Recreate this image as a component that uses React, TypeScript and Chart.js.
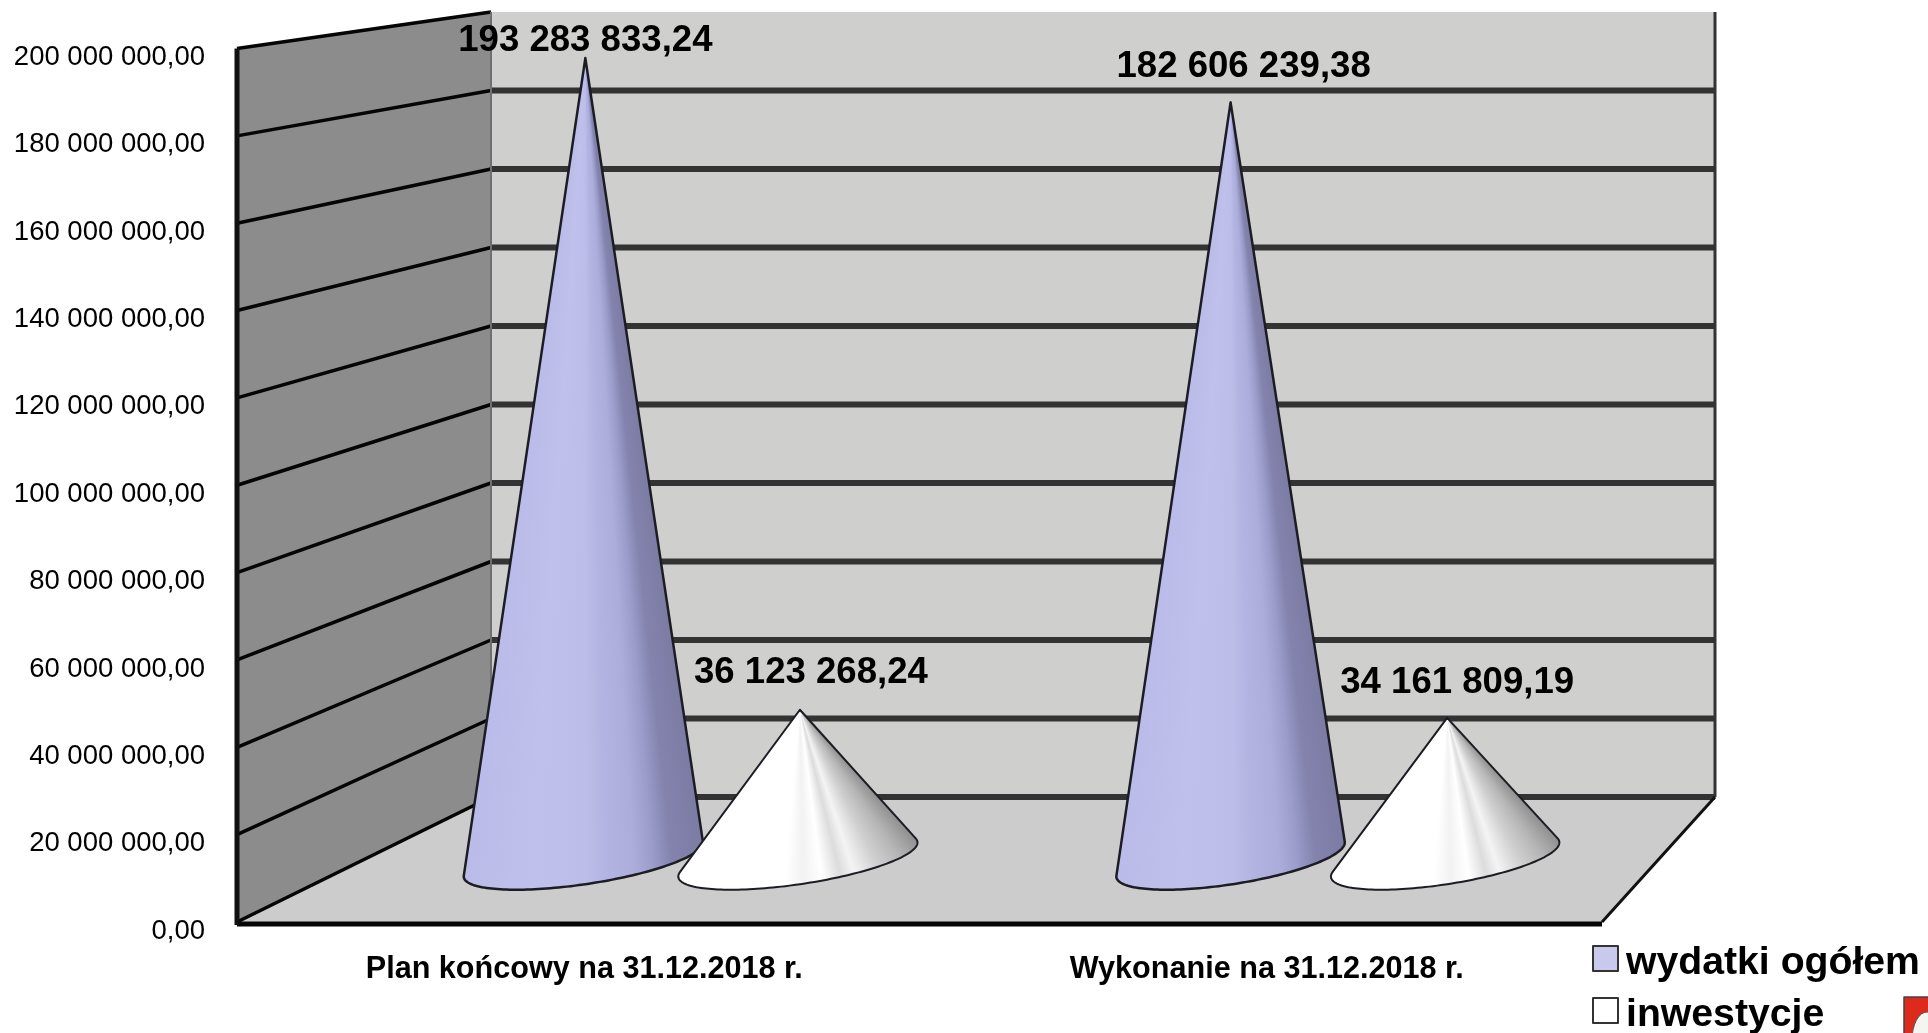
import React, { useEffect, useRef } from "react";
import { Chart, registerables } from "chart.js";

Chart.register(...registerables);

const categories = ["Plan końcowy na 31.12.2018 r.", "Wykonanie na 31.12.2018 r."];
const seriesNames = ["wydatki ogółem", "inwestycje"];
const wydatkiOgolem = [193283833.24, 182606239.38];
const inwestycje = [36123268.24, 34161809.19];

const WIDTH = 1928;
const HEIGHT = 1033;
const FONT = '"Liberation Sans", Arial, sans-serif';

// Oblique projection of the plot box: the scale's chart area is the front plane.
const BACK = { left: 491, right: 1715, top: 12, bottom: 797 };
const CONE_DEPTH = 0.5;
const CONE_SHIFT = 4;
const coneWidthByCategory = [1, 0.955];

const blueStops: [number, string][] = [
  [0, "#7b7ba3"], [0.14, "#8383ae"], [0.22, "#9c9ccb"], [0.3, "#adaddc"], [0.42, "#b4b4e2"],
  [0.5, "#bdbde9"], [0.72, "#c0c0ec"], [1, "#bbbbe9"],
];
const whiteStops: [number, string][] = [
  [0, "#8f8f8f"], [0.1, "#b5b5b5"], [0.2, "#d0d0d0"], [0.3, "#f4f4f4"], [0.36, "#dcdcdc"],
  [0.44, "#ffffff"], [0.52, "#f2f2f2"], [0.6, "#ffffff"], [1, "#ffffff"],
];
const labelNudges = [
  [[0, -17], [11, -35]],
  [[11, -37], [10, -35]],
];

function money(v: number): string {
  const [whole, frac] = v.toFixed(2).split(".");
  return whole.replace(/\B(?=(\d{3})+(?!\d))/g, " ") + "," + frac;
}

function makeProjector(chart: any) {
  const a = chart.chartArea;
  return (xF: number, yF: number, t: number) => {
    const l = a.left + (BACK.left - a.left) * t;
    const r = a.right + (BACK.right - a.right) * t;
    const b = a.bottom + (BACK.bottom - a.bottom) * t;
    const hRatio = (BACK.bottom - BACK.top) / (a.bottom - a.top);
    return {
      x: l + ((xF - a.left) / (a.right - a.left)) * (r - l),
      y: b - (a.bottom - yF) * (1 + (hRatio - 1) * t),
    };
  };
}

function poly(ctx: CanvasRenderingContext2D, pts: { x: number; y: number }[], fill: string) {
  ctx.beginPath();
  pts.forEach((p, i) => (i ? ctx.lineTo(p.x, p.y) : ctx.moveTo(p.x, p.y)));
  ctx.closePath();
  ctx.fillStyle = fill;
  ctx.fill();
}

function seg(ctx: CanvasRenderingContext2D, a: any, b: any, color: string, w: number) {
  ctx.beginPath();
  ctx.moveTo(a.x, a.y);
  ctx.lineTo(b.x, b.y);
  ctx.strokeStyle = color;
  ctx.lineWidth = w;
  ctx.stroke();
}

function drawCone(
  ctx: CanvasRenderingContext2D,
  apex: { x: number; y: number },
  base: { x: number; y: number },
  rx: number,
  stops: [number, string][],
  outline: number,
) {
  const ry = 25;
  const skew = -17;
  const n = 180;
  const pts: { x: number; y: number; a: number }[] = [];
  for (let i = 0; i < n; i++) {
    const th = (i / n) * Math.PI * 2;
    const x = base.x + rx * Math.cos(th);
    const y = base.y + ry * Math.sin(th) + skew * Math.cos(th);
    pts.push({ x, y, a: Math.atan2(y - apex.y, x - apex.x) });
  }
  let iR = 0;
  let iL = 0;
  pts.forEach((p, i) => {
    if (p.a < pts[iR].a) iR = i;
    if (p.a > pts[iL].a) iL = i;
  });
  const grad = (ctx as any).createConicGradient(pts[iR].a, apex.x, apex.y);
  const span = (pts[iL].a - pts[iR].a) / (Math.PI * 2);
  stops.forEach(([f, c]) => grad.addColorStop(f * span, c));
  grad.addColorStop(Math.min(1, span + 0.001), stops[stops.length - 1][1]);
  grad.addColorStop(1, stops[0][1]);

  ctx.beginPath();
  ctx.moveTo(apex.x, apex.y);
  ctx.lineTo(pts[iL].x, pts[iL].y);
  // lower rim, from the left tangent back round to the right tangent
  let i = iL;
  while (i !== iR) {
    i = (i - 1 + n) % n;
    ctx.lineTo(pts[i].x, pts[i].y);
  }
  ctx.closePath();
  ctx.fillStyle = grad;
  ctx.fill();
  ctx.strokeStyle = "#1c1c24";
  ctx.lineWidth = outline;
  ctx.lineJoin = "round";
  ctx.stroke();
}

const scenePlugin = {
  id: "scene3d",
  beforeDatasetsDraw(chart: any) {
    const { ctx, chartArea: a } = chart;
    const y = chart.scales.y;
    const P = makeProjector(chart);
    ctx.save();
    const fTop = { x: a.left, y: a.top };
    const fBot = { x: a.left, y: a.bottom };
    const bTop = P(a.left, a.top, 1);
    const bBot = P(a.left, a.bottom, 1);
    const fR = { x: a.right, y: a.bottom };
    const bR = P(a.right, a.bottom, 1);
    const bRT = P(a.right, a.top, 1);

    poly(ctx, [bTop, bRT, bR, bBot], "#cfcfcd");
    poly(ctx, [fBot, bBot, bR, fR], "#cccccc");
    poly(ctx, [fTop, bTop, bBot, fBot], "#8c8c8c");

    y.ticks.forEach((tk: any) => {
      const py = y.getPixelForValue(tk.value);
      const f = P(a.left, py, 0);
      const b = P(a.left, py, 1);
      const r = P(a.right, py, 1);
      if (tk.value < y.max) seg(ctx, b, r, "#333333", 6);
      seg(ctx, f, b, "#050505", 3.5);
    });
    seg(ctx, { x: bTop.x, y: bTop.y }, bBot, "#6f6f6f", 2);
    seg(ctx, bRT, bR, "#333333", 3);
    seg(ctx, fR, bR, "#111111", 3);
    seg(ctx, { x: fBot.x, y: fBot.y + 2 }, { x: fR.x, y: fR.y + 2 }, "#050505", 5);
    seg(ctx, fTop, { x: fBot.x, y: fBot.y + 3 }, "#111111", 5);
    ctx.restore();
  },
  afterDatasetsDraw(chart: any) {
    const { ctx, chartArea: a } = chart;
    const P = makeProjector(chart);
    ctx.save();
    chart.data.datasets.forEach((ds: any, d: number) => {
      chart.getDatasetMeta(d).data.forEach((bar: any, j: number) => {
        const apex = P(bar.x, bar.y, CONE_DEPTH);
        const base = P(bar.x, bar.base, CONE_DEPTH);
        const ratio = P(a.right, a.bottom, CONE_DEPTH).x - P(a.left, a.bottom, CONE_DEPTH).x;
        const rx = ((bar.width / 2) * ratio * coneWidthByCategory[j]) / (a.right - a.left);
        drawCone(
          ctx,
          { x: apex.x + CONE_SHIFT + (j === 1 && d === 0 ? -1 : 1), y: apex.y },
          { x: base.x + CONE_SHIFT - 1, y: base.y },
          rx,
          d === 0 ? blueStops : whiteStops,
          d === 0 ? 2.5 : 2,
        );
      });
    });
    // value labels, on top of every mark
    ctx.fillStyle = "#000";
    ctx.font = `bold 36.6px ${FONT}`;
    ctx.textAlign = "center";
    ctx.textBaseline = "middle";
    chart.data.datasets.forEach((ds: any, d: number) => {
      chart.getDatasetMeta(d).data.forEach((bar: any, j: number) => {
        const apex = P(bar.x, bar.y, CONE_DEPTH);
        const [dx, dy] = labelNudges[d][j];
        ctx.fillText(money(ds.data[j]), apex.x + CONE_SHIFT + 1 + dx, apex.y + dy);
      });
    });
    // legend
    const swatches = ["#c9c9ee", "#ffffff"];
    ctx.textAlign = "left";
    ctx.font = `bold 39.2px ${FONT}`;
    chart.data.datasets.forEach((ds: any, d: number) => {
      const top = 946 + d * 52;
      ctx.fillStyle = swatches[d];
      ctx.fillRect(1593, top, 25, 25);
      ctx.strokeStyle = "#333";
      ctx.lineWidth = 2;
      ctx.strokeRect(1593, top, 25, 25);
      ctx.fillStyle = "#000";
      ctx.fillText(ds.label, 1626, top + 17);
    });
    // corner of the crest, cut off by the picture's edge
    ctx.fillStyle = "#dd2a1c";
    ctx.fillRect(1904, 997, 24, 36);
    ctx.strokeStyle = "#444";
    ctx.lineWidth = 1.5;
    ctx.strokeRect(1904, 997, 30, 50);
    ctx.fillStyle = "#f4f4f0";
    ctx.beginPath();
    ctx.ellipse(1927, 1040, 15, 28, 0, 0, Math.PI * 2);
    ctx.fill();
    ctx.strokeStyle = "#555";
    ctx.lineWidth = 1;
    ctx.stroke();
    ctx.restore();
  },
};

export default function App() {
  const ref = useRef<HTMLCanvasElement | null>(null);
  useEffect(() => {
    document.body.style.margin = "0";
    document.body.style.background = "#ffffff";
    const chart = new Chart(ref.current as HTMLCanvasElement, {
      type: "bar",
      plugins: [scenePlugin],
      data: {
        labels: categories,
        datasets: [
          { label: seriesNames[0], data: wydatkiOgolem, backgroundColor: "transparent" },
          { label: seriesNames[1], data: inwestycje, backgroundColor: "transparent" },
        ],
      },
      options: {
        responsive: false,
        animation: false,
        layout: { padding: { top: 47, right: 326, left: 0, bottom: 0 } },
        plugins: { legend: { display: false }, tooltip: { enabled: false } },
        datasets: { bar: { categoryPercentage: 0.663, barPercentage: 1.115 } },
        scales: {
          x: {
            grid: { display: false },
            border: { display: false },
            afterFit: (s: any) => { s.height = 111; },
            ticks: {
              color: "#000",
              padding: 21,
              labelOffset: 6,
              maxRotation: 0,
              font: { family: FONT, size: 30.6, weight: "bold" },
            },
          },
          y: {
            min: 0,
            max: 200000000,
            grid: { display: false, drawTicks: false },
            border: { display: false },
            afterFit: (s: any) => { s.width = 237; },
            ticks: {
              stepSize: 20000000,
              color: "#000",
              padding: 32,
              labelOffset: 9,
              font: { family: FONT, size: 27.5 },
              callback: (v: any) => money(Number(v)),
            },
          },
        },
      },
    } as any);
    return () => chart.destroy();
  }, []);
  return (
    <div style={{ position: "fixed", left: 0, top: 0, width: WIDTH, height: HEIGHT, overflow: "hidden", background: "#fff" }}>
      <canvas ref={ref} width={WIDTH} height={HEIGHT} style={{ display: "block" }} />
    </div>
  );
}
